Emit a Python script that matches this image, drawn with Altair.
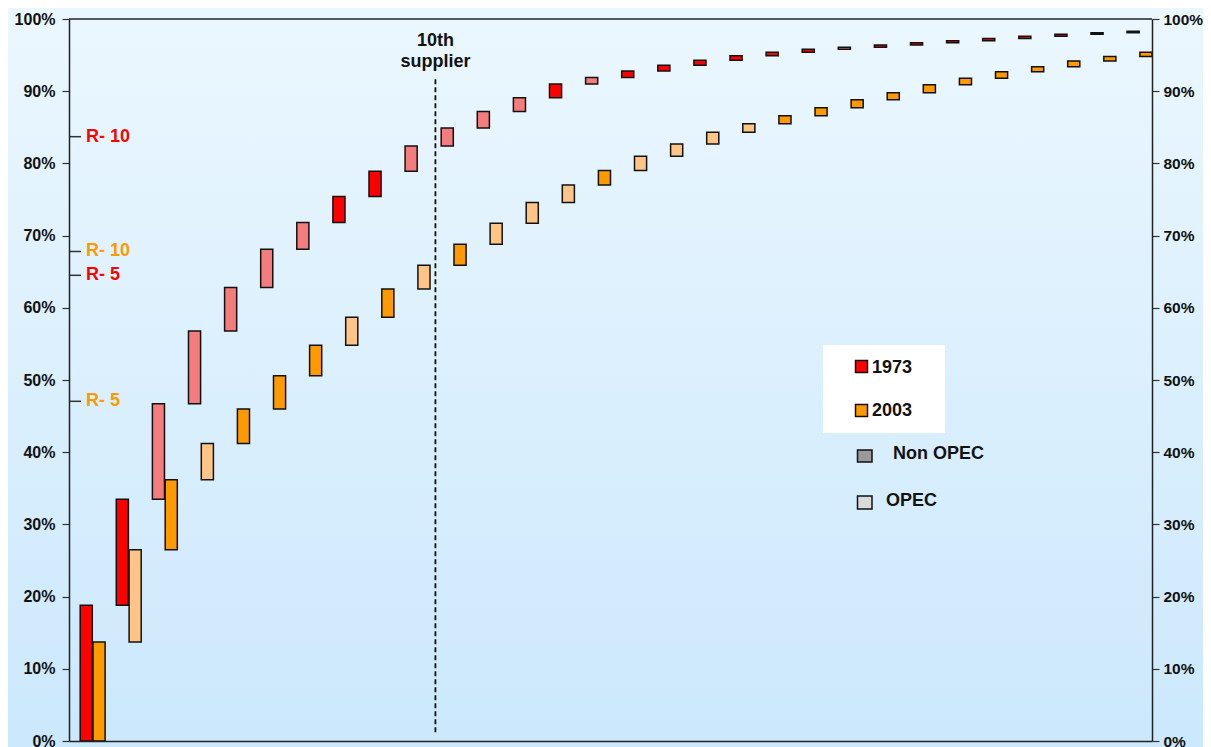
import altair as alt
import pandas as pd

# ---------------- data ----------------
suppliers = list(range(1, 31))
# cumulative share of world supply (%) after each supplier
cum_1973 = [18.8, 33.5, 46.7, 56.8, 62.8, 68.1, 71.8, 75.4, 78.9, 82.4,
            84.9, 87.2, 89.1, 91.0, 91.9, 92.8, 93.6, 94.3, 94.9, 95.4,
            95.8, 96.1, 96.4, 96.7, 97.0, 97.3, 97.6, 97.9, 98.1, 98.3]
cum_2003 = [13.7, 26.5, 36.2, 41.2, 46.0, 50.6, 54.8, 58.7, 62.6, 65.9,
            68.8, 71.7, 74.6, 77.0, 79.0, 81.0, 82.7, 84.3, 85.5, 86.6,
            87.7, 88.8, 89.8, 90.9, 91.8, 92.7, 93.4, 94.2, 94.8, 95.4]
# 1 = OPEC member (hatched), 0 = non OPEC (solid)
opec_1973 = [0, 0, 1, 1, 1, 1, 1, 0, 0, 1, 1, 1, 1, 0, 1, 0, 0, 0, 0, 0,
             0, 1, 0, 0, 0, 0, 0, 0, 0, 0]
opec_2003 = [0, 1, 0, 1, 0, 0, 0, 1, 0, 1, 0, 1, 1, 1, 0, 1, 1, 1, 1, 0,
             0, 0, 0, 0, 0, 0, 0, 0, 0, 0]
years = ["1973", "2003"]

y_ticks = [0.0, 0.1, 0.2, 0.3, 0.4, 0.5, 0.6, 0.7, 0.8, 0.9, 1.0]

r_labels = ["R- 10", "R- 10", "R- 5", "R- 5"]
r_years = ["1973", "2003", "1973", "2003"]
r_values = [83.7, 67.8, 64.5, 47.05]

tenth_label = ["10th", "supplier"]
tenth_supplier = 10

legend_labels = ["1973", "2003", "Non OPEC", "OPEC"]

# ---------------- styling ----------------
FONT = "Liberation Sans"
W, H = 1083, 722
PAD = {"left": 61, "top": 11, "right": 51, "bottom": 7}
RED, ORANGE = "#FF0000", "#FF9900"
RED_H, ORANGE_H = "#F47C7C", "#FFC486"

# ---------------- tables ----------------
rows = []
for year, cum, flags, off in [("1973", cum_1973, opec_1973, 0.31),
                              ("2003", cum_2003, opec_2003, 0.665)]:
    prev = 0.0
    for i, (top, f) in enumerate(zip(cum, flags)):
        rows.append({
            "supplier": suppliers[i],
            "year": year,
            "x0": i + off,
            "x1": i + off + 0.335,
            "y0": prev / 100.0,
            "y1": top / 100.0,
            "kind": year + ("-OPEC" if f else "-Non"),
        })
        prev = top
bars_df = pd.DataFrame(rows)

r_df = pd.DataFrame({"label": r_labels, "year": r_years,
                     "v": [v / 100.0 for v in r_values]})

xscale = alt.Scale(domain=[0, 30], nice=False, zero=False)
yscale = alt.Scale(domain=[0, 1], nice=False, zero=True)

xaxis = alt.Axis(labels=False, ticks=False, title=None, grid=False,
                 domainColor="#222222", domainWidth=1.5, zindex=1)

common_y = dict(values=y_ticks, format=".0%", labelFont=FONT,
                labelFontWeight="bold", labelColor="#111111", tickSize=7,
                tickColor="#333333", tickWidth=1.2, domainColor="#222222",
                domainWidth=1.5, title=None, grid=False, zindex=1)
left_axis = alt.Axis(orient="left", labelFontSize=16, labelPadding=7, **common_y)
right_axis = alt.Axis(orient="right", labelFontSize=15.5, labelPadding=4, **common_y)

one = pd.DataFrame({"a": [0]})

background = alt.Chart(one).mark_rect(
    fill=alt.Gradient(
        gradient="linear",
        stops=[alt.GradientStop(color="#EBF7FE", offset=0),
               alt.GradientStop(color="#CBE8FC", offset=1)],
        x1=0, x2=0, y1=0, y2=1,
    )
).encode(x=alt.value(-PAD["left"] - 2), x2=alt.value(W + PAD["right"] + 2),
         y=alt.value(-PAD["top"] - 2), y2=alt.value(H + PAD["bottom"] + 2))

bars = alt.Chart(bars_df).mark_rect(stroke="#111111", strokeWidth=1.5).encode(
    x=alt.X("x0:Q", scale=xscale, axis=xaxis),
    x2="x1:Q",
    y=alt.Y("y0:Q", scale=yscale, axis=left_axis),
    y2="y1:Q",
    fill=alt.Fill("kind:N", legend=None,
                  scale=alt.Scale(domain=["1973-Non", "1973-OPEC", "2003-Non", "2003-OPEC"],
                                  range=[RED, RED_H, ORANGE, ORANGE_H])),
)

r_ticks = alt.Chart(r_df).mark_rule(color="#333333", strokeWidth=1.5).encode(
    x=alt.value(1), x2=alt.value(12),
    y=alt.Y("v:Q", scale=yscale, axis=None),
)

r_text = alt.Chart(r_df).mark_text(
    align="left", baseline="middle", font=FONT, fontSize=18, fontWeight="bold"
).encode(
    x=alt.value(17),
    y=alt.Y("v:Q", scale=yscale, axis=None),
    text="label:N",
    color=alt.Color("year:N", legend=None,
                    scale=alt.Scale(domain=years, range=[RED, ORANGE])),
)

tenth_df = pd.DataFrame({"x": [tenth_supplier + 0.15], "y0": [0.012], "y1": [0.92], "yt": [0.962]})

tenth_rule = alt.Chart(tenth_df).mark_rule(
    color="#111111", strokeWidth=1.8, strokeDash=[5, 3]
).encode(
    x=alt.X("x:Q", scale=xscale, axis=xaxis),
    y=alt.Y("y0:Q", scale=yscale, axis=None),
    y2="y1:Q",
)

tenth_text = alt.Chart(tenth_df).mark_text(
    text=tenth_label, lineHeight=21, align="center", baseline="alphabetic",
    font=FONT, fontSize=18, fontWeight="bold", color="#111111"
).encode(
    x=alt.X("x:Q", scale=xscale, axis=xaxis),
    y=alt.Y("yt:Q", scale=yscale, axis=None),
)

# legend drawn as annotations (positions in pixels inside the plot area)
legend_box = alt.Chart(one).mark_rect(fill="white").encode(
    x=alt.value(754), x2=alt.value(876), y=alt.value(326), y2=alt.value(414)
)
legend_specs = [
    # (label, fill, sq x0, x1, y0, y1, text x, text y)
    (legend_labels[0], RED, 786.5, 798.5, 341.5, 353.5, 803, 348.5),
    (legend_labels[1], ORANGE, 786.5, 798.5, 385.5, 397.5, 803, 391.5),
    (legend_labels[2], "#999999", 788.5, 803, 431, 443, 824, 435),
    (legend_labels[3], "#DADADA", 788.5, 803, 477, 490, 817, 481.5),
]
legend_layers = [legend_box]
for lab, fillc, sx0, sx1, sy0, sy1, tx, ty in legend_specs:
    legend_layers.append(
        alt.Chart(one).mark_rect(fill=fillc, stroke="#111111", strokeWidth=1.5).encode(
            x=alt.value(sx0), x2=alt.value(sx1), y=alt.value(sy0), y2=alt.value(sy1)
        )
    )
    legend_layers.append(
        alt.Chart(one).mark_text(
            text=lab, align="left", baseline="middle", font=FONT, fontSize=18,
            fontWeight="bold", color="#111111"
        ).encode(x=alt.value(tx), y=alt.value(ty))
    )

top_df = pd.DataFrame({"x0": [0], "x1": [30], "y": [1.0]})
top_border = alt.Chart(top_df).mark_rule(color="#222222", strokeWidth=1.5).encode(
    x=alt.X("x0:Q", scale=xscale, axis=xaxis),
    x2="x1:Q",
    y=alt.Y("y:Q", scale=yscale, axis=right_axis),
)

chart = alt.layer(
    background, bars, r_ticks, r_text, tenth_rule, tenth_text,
    *legend_layers, top_border
).resolve_axis(y="independent").properties(
    width=W, height=H,
    autosize=alt.AutoSizeParams(type="none"),
    padding=PAD,
    background="#DDF0FD",
).configure_view(stroke="transparent").configure_axis(labelFont=FONT)

chart.save("out.html", embed_options={"renderer": "svg", "actions": False})
